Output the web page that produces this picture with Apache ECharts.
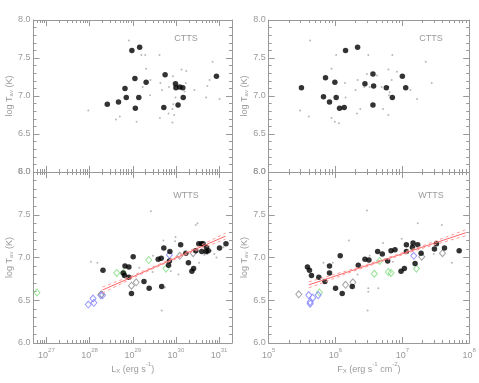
<!DOCTYPE html>
<html>
<head>
<meta charset="utf-8">
<script src="https://cdn.jsdelivr.net/npm/echarts@6/dist/echarts.min.js"></script>
<style>
html, body { margin: 0; padding: 0; background: #fff; }
#chart { width: 479px; height: 383px; }
</style>
</head>
<body>
<div id="chart"></div>
<script>
// decades for the log x axes (log10 values)
var lxDecades = [27, 28, 29, 30, 31];
var fxDecades = [5, 6, 7, 8];
var lxRange = [26.7, 31.3];
var fxRange = [5, 8];

// CTTS, log Lx vs log Tav
var cttsLxStars = [[28.98,7.60],[29.16,7.64],[29.05,7.23],[29.31,7.18],[28.82,7.10],[28.85,6.98],[29.14,6.98],[28.67,6.92],[28.41,6.89],[29.06,6.84],[29.75,7.28],[29.99,7.16],[30.09,7.12],[30.00,7.11],[30.16,7.11],[30.17,6.98],[30.05,6.88],[29.72,6.85],[30.94,7.26]];
var cttsLxDots = [[28.91,7.73],[29.20,7.54],[29.29,7.54],[29.62,7.54],[29.31,7.36],[29.41,7.21],[29.23,7.12],[29.40,7.01],[29.64,7.17],[29.68,7.08],[29.84,7.12],[29.93,7.26],[30.13,7.35],[30.24,7.33],[30.23,7.17],[30.20,7.06],[29.99,6.98],[29.94,6.89],[29.92,6.83],[29.96,6.75],[29.83,6.77],[29.63,6.71],[29.92,6.65],[30.43,7.08],[30.78,7.21],[30.73,7.13],[30.85,7.45],[30.70,6.98],[31.01,6.96],[27.97,6.81],[28.61,6.69],[28.70,6.73],[29.09,6.66]];

// CTTS, log Fx vs log Tav
var cttsFxStars = [[5.49,7.11],[6.15,7.60],[6.33,7.64],[5.85,7.24],[5.99,7.18],[5.82,6.99],[6.01,6.98],[5.91,6.92],[6.06,6.84],[6.13,6.85],[6.44,7.16],[6.56,7.29],[6.57,7.13],[6.56,6.88],[6.76,7.11],[6.85,6.98],[7.00,7.26],[7.05,7.11]];
var cttsFxDots = [[5.62,7.73],[6.01,7.54],[6.49,7.54],[6.85,7.54],[7.35,7.45],[5.94,7.36],[6.47,7.29],[6.62,7.27],[6.79,7.35],[6.92,7.32],[6.84,7.21],[7.44,7.17],[6.14,7.17],[6.33,7.21],[6.30,7.08],[6.43,7.12],[6.51,7.12],[6.69,7.12],[6.79,7.12],[6.80,7.01],[6.81,7.05],[7.12,7.08],[7.22,6.96],[6.15,6.98],[6.37,6.83],[6.32,6.77],[6.71,6.83],[6.79,6.75],[5.47,6.81],[5.60,6.73],[5.94,6.71],[5.99,6.66],[6.05,6.64]];

// WTTS, log Lx vs log Tav
var wttsLxStars = [[28.31,6.85],[28.82,6.90],[28.91,6.89],[28.78,6.82],[28.81,6.79],[28.91,6.77],[29.01,7.01],[28.97,6.58],[29.26,6.72],[29.38,6.64],[29.59,6.98],[29.66,6.99],[29.67,6.66],[29.72,7.11],[29.83,6.91],[29.86,7.07],[29.85,6.96],[30.11,7.15],[30.23,7.05],[30.29,6.94],[30.37,6.84],[30.41,6.87],[30.46,7.08],[30.53,7.16],[30.59,7.16],[30.63,7.16],[30.60,7.07],[30.71,7.12],[30.70,7.07],[30.75,7.08],[31.01,7.11],[31.16,7.16]];
var wttsLxGreen = [[26.78,6.59],[28.63,6.82],[28.78,6.82],[29.37,6.97],[29.77,6.87]];
var wttsLxBlue = [[27.97,6.45],[28.08,6.52],[28.10,6.47],[28.26,6.56],[28.30,6.56],[29.85,7.03]];
var wttsLxGray = [[28.27,6.57],[28.97,6.67],[29.08,6.71],[30.09,7.02],[30.40,7.05]];
var wttsLxDots = [[28.03,6.95],[28.18,6.94],[29.42,7.54],[30.50,7.40],[30.46,7.38],[29.71,7.20],[29.98,7.19],[29.99,7.24],[29.47,7.02],[29.67,6.38],[30.06,6.80],[30.94,7.00],[30.54,7.07],[30.82,7.08],[30.89,7.04],[31.10,7.12],[29.88,6.84],[29.15,6.88],[29.46,6.83],[29.75,6.65],[30.66,7.03],[30.73,7.04],[30.54,6.94]];
var wttsLxFit = [[28.3,6.62],[31.15,7.25]];
var wttsLxFitHi = [[28.3,6.655],[29.0,6.79],[29.7,6.94],[30.4,7.10],[31.15,7.285]];
var wttsLxFitLo = [[28.3,6.585],[29.0,6.76],[29.7,6.92],[30.4,7.07],[31.15,7.215]];

// WTTS, log Fx vs log Tav
var wttsFxStars = [[5.58,6.89],[5.61,6.85],[5.64,6.79],[5.75,6.77],[5.84,6.72],[5.91,6.90],[5.91,6.82],[6.07,7.02],[6.00,6.64],[6.10,6.58],[6.25,6.66],[6.34,6.91],[6.44,6.98],[6.50,6.97],[6.63,7.07],[6.70,7.04],[6.78,6.96],[6.83,7.08],[6.89,7.09],[6.98,6.84],[7.03,6.87],[7.06,7.15],[7.06,7.07],[7.16,7.17],[7.15,7.12],[7.23,7.15],[7.19,6.93],[7.28,7.05],[7.48,7.10],[7.51,7.16],[7.63,7.11],[7.85,7.08]];
var wttsFxGreen = [[5.76,6.59],[6.66,6.96],[6.58,6.81],[6.79,6.83],[6.83,6.82],[7.21,6.87]];
var wttsFxBlue = [[5.60,6.56],[5.66,6.53],[5.62,6.46],[5.62,6.48],[5.74,6.56],[7.17,7.02]];
var wttsFxGray = [[5.45,6.57],[6.15,6.68],[6.26,6.71],[7.29,7.01],[7.60,7.05]];
var wttsFxDots = [[6.20,7.20],[5.82,6.94],[5.96,6.94],[6.33,6.80],[6.49,6.64],[6.48,6.38],[6.47,7.55],[7.23,7.40],[7.59,7.38],[6.99,7.22],[6.71,7.17],[6.85,7.07],[6.51,7.02],[6.86,6.95],[7.47,7.04],[7.74,6.94],[6.49,6.60],[6.64,6.64]];
var wttsFxFit = [[5.6,6.68],[7.95,7.29]];
var wttsFxFitHi = [[5.6,6.715],[6.2,6.851],[6.75,6.989],[7.35,7.15],[7.95,7.325]];
var wttsFxFitLo = [[5.6,6.645],[6.2,6.821],[6.75,6.969],[7.35,7.12],[7.95,7.255]];

var AXIS = '#999';
var TEXT = '#9a9a9a';
var FONT = 'Liberation Sans';

var grids = [
  { left: 33.5, top: 20, width: 198.5, height: 152 },
  { left: 268.7, top: 20, width: 200.5, height: 152 },
  { left: 33.5, top: 172, width: 198.5, height: 171 },
  { left: 268.7, top: 172, width: 200.5, height: 171 }
];

var xAxis = [];
var yAxis = [];
var mainX = [];

function minorTicks(range, decades) {
  var out = [];
  for (var d = decades[0] - 1; d <= decades[decades.length - 1]; d++) {
    for (var k = 2; k <= 9; k++) {
      var v = d + Math.log10(k);
      if (v > range[0] && v < range[1]) out.push(v);
    }
  }
  return out;
}

// shared rich styles for sub/superscripts
var richText = {
  b: { fontSize: 9, color: TEXT, fontFamily: FONT, lineHeight: 13, verticalAlign: 'bottom' },
  s: { fontSize: 6, color: TEXT, fontFamily: FONT, lineHeight: 7, verticalAlign: 'top' },
  sub: { fontSize: 6, color: TEXT, fontFamily: FONT, lineHeight: 7, verticalAlign: 'bottom' }
};

function addX(gi, range, decades, showLabels, name) {
  var minor = minorTicks(range, decades);
  var line = { color: AXIS, width: 1 };
  mainX[gi] = xAxis.length;
  xAxis.push({
    gridIndex: gi, type: 'value', position: 'bottom', min: range[0], max: range[1],
    axisLine: { show: true, onZero: false, lineStyle: line },
    axisTick: { show: true, inside: true, length: 6, customValues: decades, lineStyle: line },
    axisLabel: {
      show: showLabels, customValues: decades, margin: 4,
      formatter: function (v) { return '{b|10}{s|' + Math.round(v) + '}'; },
      rich: richText
    },
    splitLine: { show: false },
    name: showLabels ? name : '', nameLocation: 'middle', nameGap: 14,
    nameTextStyle: { color: TEXT, fontSize: 9, fontFamily: FONT, rich: richText }
  });
  xAxis.push({
    gridIndex: gi, type: 'value', position: 'bottom', min: range[0], max: range[1],
    axisLine: { show: false }, axisLabel: { show: false }, splitLine: { show: false },
    axisTick: { show: true, inside: true, length: 3, customValues: minor, lineStyle: line }
  });
  xAxis.push({
    gridIndex: gi, type: 'value', position: 'top', min: range[0], max: range[1],
    axisLine: { show: true, onZero: false, lineStyle: line }, axisLabel: { show: false }, splitLine: { show: false },
    axisTick: { show: true, inside: true, length: 6, customValues: decades, lineStyle: line }
  });
  xAxis.push({
    gridIndex: gi, type: 'value', position: 'top', min: range[0], max: range[1],
    axisLine: { show: false }, axisLabel: { show: false }, splitLine: { show: false },
    axisTick: { show: true, inside: true, length: 3, customValues: minor, lineStyle: line }
  });
}

function addY(gi) {
  var line = { color: AXIS, width: 1 };
  yAxis.push({
    gridIndex: gi, type: 'value', position: 'left', min: 6, max: 8, interval: 0.5,
    axisLine: { show: true, onZero: false, lineStyle: line },
    axisTick: { show: true, inside: true, length: 6, lineStyle: line },
    minorTick: { show: true, splitNumber: 5, length: 3, lineStyle: line },
    axisLabel: { show: true, margin: 3, fontSize: 9, color: TEXT, fontFamily: FONT,
      formatter: function (v) { return v.toFixed(1); } },
    splitLine: { show: false },
    name: 'log T{sub|av} (K)', nameLocation: 'middle', nameRotate: 90, nameGap: 17,
    nameTextStyle: { color: TEXT, fontSize: 9, fontFamily: FONT, rich: richText }
  });
  yAxis.push({
    gridIndex: gi, type: 'value', position: 'right', min: 6, max: 8, interval: 0.5,
    axisLine: { show: true, onZero: false, lineStyle: line },
    axisTick: { show: true, inside: true, length: 6, lineStyle: line },
    minorTick: { show: true, splitNumber: 5, length: 3, lineStyle: line },
    axisLabel: { show: false }, splitLine: { show: false }
  });
}

var lxName = '{b|L}{sub|X}{b| (erg s}{s|-1}{b|)}';
var fxName = '{b|F}{sub|X}{b| (erg s}{s|-1}{b| cm}{s|-2}{b|)}';
addX(0, lxRange, lxDecades, false, lxName);
addX(1, fxRange, fxDecades, false, fxName);
addX(2, lxRange, lxDecades, true, lxName);
addX(3, fxRange, fxDecades, true, fxName);
for (var g = 0; g < 4; g++) addY(g);

function dots(gi, data) {
  return { type: 'scatter', xAxisIndex: mainX[gi], yAxisIndex: gi * 2, data: data,
    symbol: 'circle', symbolSize: 2, itemStyle: { color: '#a8a8a8' }, silent: true, z: 2 };
}
function stars(gi, data) {
  return { type: 'scatter', xAxisIndex: mainX[gi], yAxisIndex: gi * 2, data: data,
    symbol: 'circle', symbolSize: 5.5, itemStyle: { color: '#000' }, silent: true, z: 4 };
}
function diamonds(gi, data, color) {
  return { type: 'scatter', xAxisIndex: mainX[gi], yAxisIndex: gi * 2, data: data,
    symbol: 'diamond', symbolSize: [6, 7],
    itemStyle: { color: 'transparent', borderColor: color, borderWidth: 1 }, silent: true, z: 3 };
}
function fit(gi, data, dashed) {
  return { type: 'line', xAxisIndex: mainX[gi], yAxisIndex: gi * 2, data: data,
    showSymbol: false, silent: true, z: 5,
    lineStyle: { color: dashed ? '#ff9a9a' : '#ff6666', width: 1, type: dashed ? [3, 3] : 'solid' } };
}

var series = [
  dots(0, cttsLxDots), stars(0, cttsLxStars),
  dots(1, cttsFxDots), stars(1, cttsFxStars),
  dots(2, wttsLxDots), diamonds(2, wttsLxGreen, '#7fdc7f'), diamonds(2, wttsLxBlue, '#8080ff'),
  diamonds(2, wttsLxGray, '#8c8c8c'), stars(2, wttsLxStars),
  fit(2, wttsLxFit, false), fit(2, wttsLxFitHi, true), fit(2, wttsLxFitLo, true),
  dots(3, wttsFxDots), diamonds(3, wttsFxGreen, '#7fdc7f'), diamonds(3, wttsFxBlue, '#8080ff'),
  diamonds(3, wttsFxGray, '#8c8c8c'), stars(3, wttsFxStars),
  fit(3, wttsFxFit, false), fit(3, wttsFxFitHi, true), fit(3, wttsFxFitLo, true)
];

function tag(text, x, y) {
  return { type: 'text', x: x, y: y, silent: true,
    style: { text: text, fill: TEXT, font: '9px "Liberation Sans"', textAlign: 'center', textVerticalAlign: 'middle' } };
}

var chart = echarts.init(document.getElementById('chart'));
chart.setOption({
  animation: false,
  backgroundColor: '#fff',
  grid: grids,
  xAxis: xAxis,
  yAxis: yAxis,
  series: series,
  graphic: [tag('CTTS', 186, 39), tag('CTTS', 431, 39), tag('WTTS', 186, 196), tag('WTTS', 431, 196)]
});
</script>
</body>
</html>
